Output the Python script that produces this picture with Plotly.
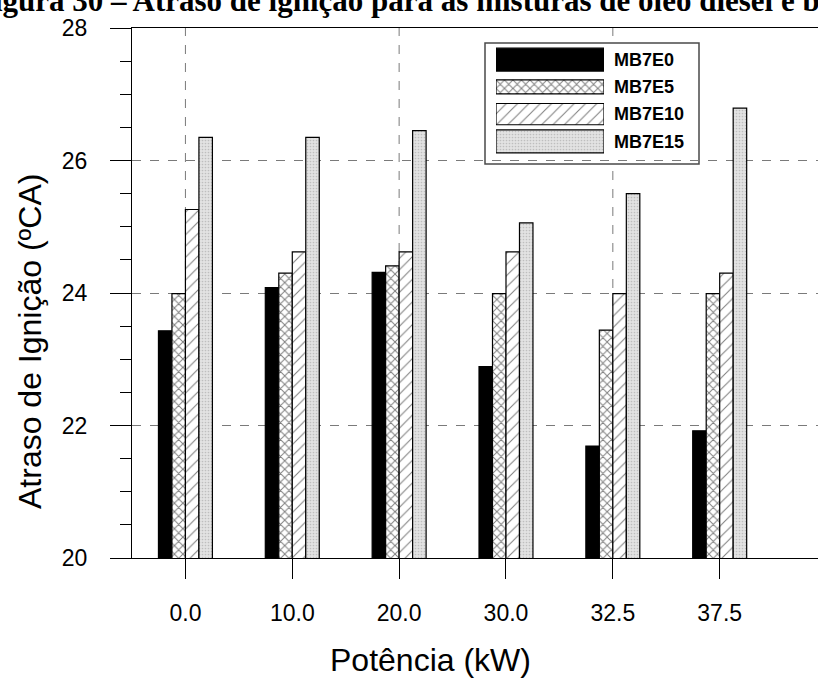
import plotly.graph_objects as go

# ---------------- data ----------------
potencia = ["0.0", "10.0", "20.0", "30.0", "32.5", "37.5"]
series_names = ["MB7E0", "MB7E5", "MB7E10", "MB7E15"]
mb7e0 = [23.43, 24.08, 24.31, 22.89, 21.69, 21.92]
mb7e5 = [23.99, 24.30, 24.41, 23.99, 23.44, 23.99]
mb7e10 = [25.26, 24.62, 24.62, 24.62, 23.99, 24.30]
mb7e15 = [26.35, 26.35, 26.45, 25.06, 25.50, 26.79]
y_ticks = [20, 22, 24, 26, 28]

series_values = [mb7e0, mb7e5, mb7e10, mb7e15]

# ---------------- styles ----------------
styles = [
    dict(color="black", pattern=dict(shape=""), legw=0.84),
    dict(color="white", pattern=dict(shape="x", fgcolor="black", bgcolor="white",
                                     size=6, solidity=0.3, fillmode="overlay"), legw=0.52),
    dict(color="white", pattern=dict(shape="/", fgcolor="black", bgcolor="white",
                                     size=8, solidity=0.13, fillmode="overlay"), legw=0.78),
    dict(color="#dcdcdc", pattern=dict(shape=".", fgcolor="#9a9a9a", bgcolor="#e2e2e2",
                                       size=3, solidity=0.25, fillmode="overlay"), legw=0.84),
]

fig = go.Figure()

for name, vals, st in zip(series_names, series_values, styles):
    fig.add_trace(go.Bar(
        x=potencia, y=vals, name=name, showlegend=False,
        marker=dict(color=st["color"], pattern=st["pattern"],
                    line=dict(color="black", width=1.2)),
        xaxis="x", yaxis="y",
    ))

# legend swatches drawn in a small inset subplot
for name, st in zip(series_names, styles):
    fig.add_trace(go.Bar(
        x=[1], y=[name], base=0, orientation="h", showlegend=False,
        offsetgroup="leg", width=st["legw"], hoverinfo="skip",
        marker=dict(color=st["color"], pattern=st["pattern"],
                    line=dict(color="black", width=1.2)),
        xaxis="x3", yaxis="y3",
    ))

W, H = 818, 684
L, T, B = 132, 28, 126
plot_w = W - L
plot_h = H - T - B

def px_x(p):
    return (p - L) / plot_w

def px_y(p):
    return (H - B - p) / plot_h

# dashed vertical grid lines at every other category (category index positions)
for i in range(0, len(potencia), 2):
    fig.add_shape(type="line", xref="x", yref="paper", x0=i, x1=i, y0=0, y1=1,
                  line=dict(color="#7a7a7a", width=1, dash="dash"), layer="between")

# legend box (white, covers grid lines, below the swatch traces)
fig.add_shape(type="rect", xref="paper", yref="paper",
              x0=px_x(485), x1=px_x(699), y0=px_y(164), y1=px_y(43),
              line=dict(color="#4a4a4a", width=1.5), fillcolor="white", layer="between")

fig.update_layout(
    width=W, height=H,
    margin=dict(l=L, r=0, t=T, b=B),
    paper_bgcolor="white", plot_bgcolor="white",
    barmode="group", bargap=0.495, bargroupgap=0,
    font=dict(family="Arial, Liberation Sans, sans-serif", color="black"),
    xaxis=dict(
        type="category", categoryorder="array", categoryarray=potencia,
        range=[-0.5, 5.92], showgrid=False, zeroline=False,
        showline=True, linecolor="black", linewidth=1.2, mirror=True,
        ticks="outside", ticklen=20, tickwidth=1.2, tickcolor="black",
        tickfont=dict(size=23, family="Arial, Liberation Sans"),
        ticklabelstandoff=14,
    ),
    yaxis=dict(
        range=[20, 28], tickvals=y_ticks,
        showgrid=True, gridcolor="#7a7a7a", griddash="dash", gridwidth=1,
        zeroline=False, showline=True, linecolor="black", linewidth=1.2,
        ticks="outside", ticklen=21, tickwidth=1.2, tickcolor="black",
        tickfont=dict(size=23, family="Arial, Liberation Sans"),
        ticklabelstandoff=18,
        minor=dict(dtick=0.5, ticks="outside", ticklen=11, tickwidth=1.2,
                   tickcolor="black", showgrid=False),
    ),
    xaxis3=dict(domain=[px_x(496), px_x(604)], range=[0, 1], anchor="y3",
                showgrid=False, zeroline=False, showticklabels=False, showline=False),
    yaxis3=dict(domain=[px_y(155), px_y(46)], anchor="x3", type="category",
                categoryorder="array", categoryarray=series_names,
                range=[3.5, -0.5], side="right", showgrid=False, zeroline=False,
                showline=False, ticks="",
                tickfont=dict(size=18, family="Arial, Liberation Sans", color="black",
                              weight="bold"),
                ticklabelstandoff=9),
    annotations=[
        dict(text="<b>Figura 30 – Atraso de ignição para as misturas de óleo diesel e biodiesel</b>",
             xref="paper", yref="paper", x=px_x(-27), y=px_y(20),
             xanchor="left", yanchor="bottom", showarrow=False,
             font=dict(family="Liberation Serif, Times New Roman, serif", size=31, color="black")),
        dict(text="Atraso de Ignição (ºCA)", xref="paper", yref="paper",
             x=px_x(30), y=px_y(342), xanchor="center", yanchor="middle",
             textangle=-90, showarrow=False,
             font=dict(size=32, family="Arial, Liberation Sans")),
        dict(text="Potência (kW)", xref="paper", yref="paper",
             x=px_x(430), y=px_y(660), xanchor="center", yanchor="middle",
             showarrow=False, font=dict(size=32, family="Arial, Liberation Sans")),
    ],
)

fig.write_html("out.html")
